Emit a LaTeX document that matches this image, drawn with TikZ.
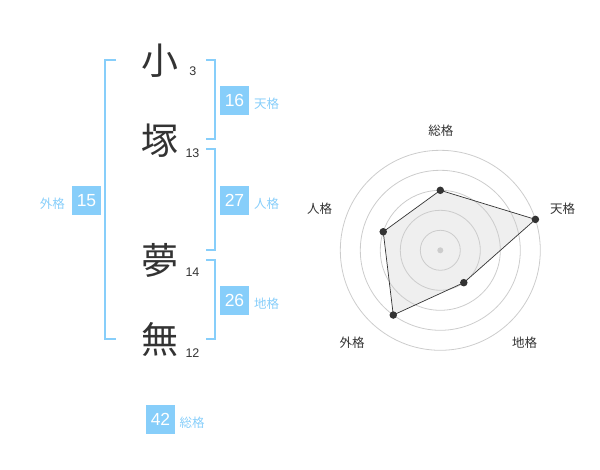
\documentclass[tikz,border=0pt]{standalone}
\usepackage{fontspec}
\setmainfont{Liberation Sans}
\newfontfamily\cjk{Noto Sans CJK JP}
\definecolor{skyb}{HTML}{87CEFA}
\definecolor{dark}{HTML}{333333}
\definecolor{ring}{HTML}{CCCCCC}
\definecolor{area}{HTML}{EFEFEF}
\tikzset{
  br/.style={draw=skyb, line width=2pt},
  kanji/.style={inner sep=0pt, text=dark, font=\cjk\fontsize{37}{37}\selectfont},
  strokes/.style={inner sep=0pt, text=dark, font=\fontsize{12.5}{12.5}\selectfont},
  valbox/.style={fill=skyb, text=white, minimum size=29pt, inner sep=0pt, font=\fontsize{17.5}{17.5}\selectfont},
  kaku/.style={inner sep=0pt, text=skyb, font=\cjk\fontsize{12.5}{12.5}\selectfont},
  axlab/.style={inner sep=0pt, text=dark, font=\cjk\fontsize{12.5}{12.5}\selectfont},
  ringc/.style={draw=ring, line width=0.8pt},
  dot/.style={circle, fill=dark, inner sep=0pt, minimum size=7.5pt},
}
\begin{document}
\begin{tikzpicture}[x=1pt,y=-1pt]
\useasboundingbox (0,0) rectangle (600,470);
% brackets
\draw[br] (116,60) -- (105,60) -- (105,339.5) -- (116,339.5);
\draw[br] (206,60) -- (214.5,60) -- (214.5,139.5) -- (206,139.5);
\draw[br] (206,149.5) -- (214.5,149.5) -- (214.5,250) -- (206,250);
\draw[br] (206,260) -- (214.5,260) -- (214.5,339.5) -- (206,339.5);
% characters
\node[kanji] (c1) at (160,60.5) {小};
\node[kanji] (c2) at (160,141) {塚};
\node[kanji] (c3) at (160,260.5) {夢};
\node[kanji] (c4) at (160,339) {無};
\node[strokes] (s1) at (192.8,71.7) {3};
\node[strokes] (s2) at (192.5,153.3) {13};
\node[strokes] (s3) at (192.5,272.7) {14};
\node[strokes] (s4) at (192.5,352.8) {12};
% values
\node[valbox] (v1) at (234.5,100.5) {16};
\node[kaku, anchor=west] (k1) at (254,104) {天格};
\node[valbox] (v2) at (234.5,200.5) {27};
\node[kaku, anchor=west] (k2) at (254,204) {人格};
\node[valbox] (v3) at (234.5,300.5) {26};
\node[kaku, anchor=west] (k3) at (254,304) {地格};
\node[valbox] (v4) at (86.5,200.5) {15};
\node[kaku, anchor=east] (k4) at (65,204) {外格};
\node[valbox] (v5) at (160.5,419) {42};
\node[kaku, anchor=west] (k5) at (179.5,423) {総格};
% radar
\begin{scope}[shift={(440.3,250.3)}]
  \coordinate (pS) at (-90:60);
  \coordinate (pT) at (-18:100);
  \coordinate (pC) at (54:40);
  \coordinate (pG) at (126:80);
  \coordinate (pJ) at (198:60);
  \fill[area] (pS) -- (pT) -- (pC) -- (pG) -- (pJ) -- cycle;
  \foreach \r in {20,40,60,80,100} \draw[ringc] (0,0) circle (\r pt);
  \draw[draw=dark, line width=0.7pt] (pS) -- (pT) -- (pC) -- (pG) -- (pJ) -- cycle;
  \node[circle, fill=ring, inner sep=0pt, minimum size=6pt] (ctr) at (0,0) {};
  \node[dot] (dS) at (pS) {};
  \node[dot] (dT) at (pT) {};
  \node[dot] (dC) at (pC) {};
  \node[dot] (dG) at (pG) {};
  \node[dot] (dJ) at (pJ) {};
\end{scope}
\node[axlab] (aS) at (440.8,130.5) {総格};
\node[axlab] (aT) at (562.5,208.5) {天格};
\node[axlab] (aJ) at (319.5,208.5) {人格};
\node[axlab] (aG) at (352,342.5) {外格};
\node[axlab] (aC) at (524.5,342.5) {地格};
\end{tikzpicture}
\end{document}
